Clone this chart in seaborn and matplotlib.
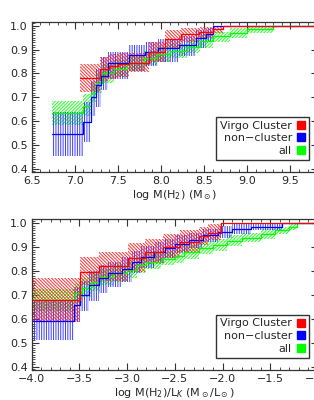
import numpy as np
import pandas as pd
import seaborn as sns
import matplotlib.pyplot as plt
from matplotlib.lines import Line2D
from matplotlib.ticker import MultipleLocator

sns.set_style('ticks')
plt.rcParams['font.family'] = ['DejaVu Sans']
plt.rcParams['mathtext.fontset'] = 'dejavusans'
plt.rcParams['hatch.linewidth'] = 0.7

# =============================================================================
# Top panel: log M(H2)  (step edges, step value, lower / upper band)
# =============================================================================
mh2_virgo_x = [7.06, 7.29, 7.40, 7.50, 7.63, 7.86, 8.04, 8.23, 8.44, 8.60, 8.72]
mh2_virgo_y = [0.78, 0.82, 0.83, 0.84, 0.845, 0.89, 0.945, 0.964, 0.975, 0.985, 1.0]
mh2_virgo_lo = [0.724, 0.77, 0.775, 0.785, 0.805, 0.85, 0.907, 0.93, 0.95, 0.97, 1.0]
mh2_virgo_hi = [0.838, 0.87, 0.88, 0.885, 0.886, 0.933, 0.982, 0.99, 0.995, 1.0, 1.0]

mh2_non_x = [6.73, 7.09, 7.19, 7.25, 7.30, 7.38, 7.63, 7.81, 7.96, 8.21, 8.41, 8.52, 8.60]
mh2_non_y = [0.545, 0.595, 0.70, 0.75, 0.79, 0.845, 0.877, 0.891, 0.905, 0.919, 0.947, 0.965, 1.0]
mh2_non_lo = [0.455, 0.515, 0.62, 0.66, 0.73, 0.775, 0.81, 0.83, 0.85, 0.875, 0.905, 0.935, 1.0]
mh2_non_hi = [0.64, 0.68, 0.77, 0.82, 0.87, 0.89, 0.92, 0.93, 0.945, 0.955, 0.98, 0.99, 1.0]

mh2_all_x = [6.73, 7.09, 7.19, 7.25, 7.32, 7.45, 7.60, 7.80, 7.95, 8.10, 8.30, 8.45, 8.60, 8.80, 9.00, 9.30]
mh2_all_y = [0.635, 0.665, 0.72, 0.76, 0.80, 0.82, 0.845, 0.865, 0.88, 0.895, 0.91, 0.935, 0.955, 0.97, 0.985, 1.0]
mh2_all_lo = [0.585, 0.62, 0.68, 0.72, 0.76, 0.785, 0.81, 0.835, 0.85, 0.865, 0.885, 0.905, 0.93, 0.95, 0.97, 1.0]
mh2_all_hi = [0.685, 0.715, 0.76, 0.80, 0.835, 0.855, 0.875, 0.895, 0.91, 0.925, 0.94, 0.96, 0.975, 0.99, 1.0, 1.0]

# =============================================================================
# Bottom panel: log M(H2)/LK
# =============================================================================
lk_virgo_x = [-4.0, -3.49, -3.29, -2.99, -2.81, -2.62, -2.45, -2.25, -2.15, -2.02]
lk_virgo_y = [0.68, 0.795, 0.82, 0.855, 0.88, 0.90, 0.92, 0.945, 0.96, 1.0]
lk_virgo_lo = [0.585, 0.74, 0.76, 0.795, 0.83, 0.855, 0.88, 0.91, 0.93, 1.0]
lk_virgo_hi = [0.771, 0.858, 0.88, 0.919, 0.935, 0.955, 0.97, 0.985, 0.995, 1.0]

lk_non_x = [-4.0, -3.56, -3.49, -3.40, -3.30, -3.20, -3.05, -2.95, -2.85, -2.72, -2.60,
            -2.50, -2.35, -2.20, -2.05, -1.90, -1.70, -1.38]
lk_non_y = [0.59, 0.66, 0.70, 0.74, 0.77, 0.79, 0.81, 0.84, 0.86, 0.88, 0.895,
            0.915, 0.93, 0.95, 0.965, 0.975, 0.985, 1.0]
lk_non_lo = [0.51, 0.585, 0.635, 0.675, 0.71, 0.735, 0.755, 0.79, 0.815, 0.835, 0.855,
             0.875, 0.895, 0.92, 0.94, 0.955, 0.97, 1.0]
lk_non_hi = [0.675, 0.735, 0.76, 0.80, 0.825, 0.84, 0.86, 0.885, 0.905, 0.92, 0.935,
             0.95, 0.96, 0.975, 0.99, 0.995, 0.998, 1.0]

lk_all_x = [-4.0, -3.55, -3.47, -3.38, -3.28, -3.15, -3.00, -2.90, -2.80, -2.65, -2.50,
            -2.40, -2.25, -2.10, -1.95, -1.80, -1.60, -1.45, -1.30, -1.22]
lk_all_y = [0.68, 0.71, 0.73, 0.755, 0.775, 0.79, 0.805, 0.825, 0.84, 0.85, 0.865,
            0.88, 0.895, 0.91, 0.925, 0.94, 0.955, 0.97, 0.985, 1.0]
lk_all_lo = [0.635, 0.665, 0.69, 0.715, 0.74, 0.755, 0.77, 0.79, 0.81, 0.825, 0.835,
             0.85, 0.87, 0.885, 0.905, 0.92, 0.935, 0.955, 0.97, 1.0]
lk_all_hi = [0.725, 0.75, 0.77, 0.795, 0.81, 0.825, 0.84, 0.86, 0.87, 0.88, 0.89,
             0.91, 0.925, 0.935, 0.95, 0.96, 0.975, 0.985, 0.995, 1.0]

labels = ['Virgo Cluster', 'non\u2212cluster', 'all']
colors = ['#ff0000', '#0000ff', '#00ff00']
band_cols = [(1, 0.1, 0.1, 0.9), (0.2, 0.2, 1, 0.95), (0.1, 1, 0.1, 0.95)]
hatches = ['\\' * 10, '|' * 7, '/' * 10]


def draw_panel(ax, series, xmax, xlim, ylim, xlabel, major):
    # bands first (green, blue, red), then the step lines
    order = [2, 1, 0]
    for i in order:
        x, y, lo, hi = series[i]
        xs = list(x) + [xmax]
        ax.fill_between(xs, list(lo) + [lo[-1]], list(hi) + [hi[-1]], step='post',
                        facecolor='none', edgecolor=band_cols[i], hatch=hatches[i],
                        linewidth=0)
    for i in order:
        x, y, lo, hi = series[i]
        df = pd.DataFrame({'x': list(x) + [xmax], 'y': list(y) + [y[-1]]})
        sns.lineplot(data=df, x='x', y='y', ax=ax, color=colors[i], linewidth=0.9,
                     drawstyle='steps-post', estimator=None, sort=False, legend=False)
    ax.set_xlim(*xlim)
    ax.set_ylim(*ylim)
    ax.xaxis.set_major_locator(MultipleLocator(major))
    ax.xaxis.set_minor_locator(MultipleLocator(0.1))
    ax.yaxis.set_major_locator(MultipleLocator(0.1))
    ax.yaxis.set_minor_locator(MultipleLocator(0.01))
    ax.yaxis.set_major_formatter(plt.FormatStrFormatter('%.1f'))
    ax.xaxis.set_major_formatter(plt.FuncFormatter(lambda v, p: ('%.1f' % v).replace('-', '\u2212')))
    ax.tick_params(which='both', direction='in', top=True, right=True, labelsize=8,
                   color='#333333', pad=3)
    ax.tick_params(which='major', length=5, width=0.8)
    ax.tick_params(which='minor', length=2.5, width=0.6)
    for s in ax.spines.values():
        s.set_linewidth(0.9)
        s.set_color('#333333')
    ax.set_xlabel(xlabel, fontsize=8, labelpad=1)
    ax.set_ylabel('$f_K$', fontsize=8)
    ax.yaxis.set_label_coords(-0.13, 0.5)
    handles = [Line2D([], [], marker='s', linestyle='none', color=c, markersize=6) for c in colors]
    ax.legend(handles, labels, loc='lower right', bbox_to_anchor=(0.969, 0.08),
              markerfirst=False, fancybox=False, edgecolor='#333333', framealpha=1,
              fontsize=8, handlelength=0.8, handletextpad=0.4, borderpad=0.35,
              labelspacing=0.25, borderaxespad=0)


fig = plt.figure(figsize=(3.14, 4.0), dpi=100)
ax1 = fig.add_axes([31.7 / 314, 1 - 172 / 400, 286.3 / 314, 150 / 400])
ax2 = fig.add_axes([31.7 / 314, 1 - 370 / 400, 286.3 / 314, 151 / 400])

top_series = [(mh2_virgo_x, mh2_virgo_y, mh2_virgo_lo, mh2_virgo_hi),
              (mh2_non_x, mh2_non_y, mh2_non_lo, mh2_non_hi),
              (mh2_all_x, mh2_all_y, mh2_all_lo, mh2_all_hi)]
bot_series = [(lk_virgo_x, lk_virgo_y, lk_virgo_lo, lk_virgo_hi),
              (lk_non_x, lk_non_y, lk_non_lo, lk_non_hi),
              (lk_all_x, lk_all_y, lk_all_lo, lk_all_hi)]

draw_panel(ax1, top_series, 9.82, (6.5, 9.82), (0.3875, 1.0155),
           r'log M(H$_2$) (M$_\odot$)', 0.5)
draw_panel(ax2, bot_series, -1.0, (-4.0, -1.0), (0.386, 1.018),
           r'log M(H$_2$)/L$_K$ (M$_\odot$/L$_\odot$)', 0.5)

fig.savefig('out.png', dpi=100)
